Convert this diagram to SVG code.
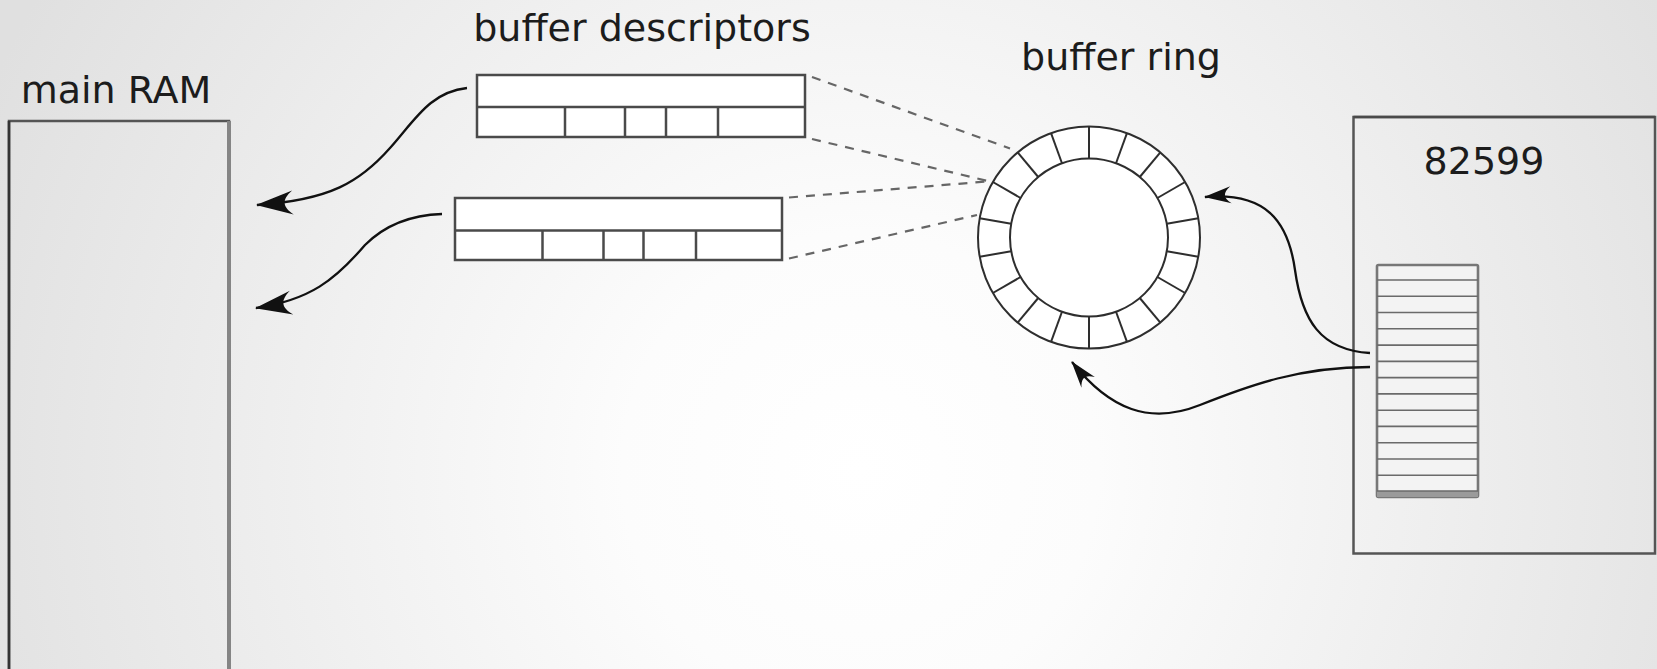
<svg xmlns="http://www.w3.org/2000/svg" width="1657" height="669" viewBox="0 0 1657 669">
  <defs>
    <radialGradient id="bg" gradientUnits="userSpaceOnUse" cx="860" cy="470" r="950">
      <stop offset="0" stop-color="#ffffff"/>
      <stop offset="0.25" stop-color="#fcfcfc"/>
      <stop offset="1" stop-color="#e0e0e0"/>
    </radialGradient>
    <marker id="headL" markerUnits="userSpaceOnUse" orient="auto" markerWidth="40" markerHeight="28" refX="0" refY="0" viewBox="-38 -14 40 28" overflow="visible">
      <path d="M1,0 L-36,-12 C-25,-3.5 -25,3.5 -36,12 Z" fill="#111"/>
    </marker>
    <marker id="headS" markerUnits="userSpaceOnUse" orient="auto" markerWidth="30" markerHeight="20" refX="0" refY="0" viewBox="-28 -10 30 20" overflow="visible">
      <path d="M1,0 L-26,-8.5 C-18,-2.5 -18,2.5 -26,8.5 Z" fill="#111"/>
    </marker>
  </defs>
  <style>
    .label { font-family: "DejaVu Sans", "Liberation Sans", sans-serif; font-size: 38px; fill: #1c1c1c; text-anchor: middle; }
    .box { fill: none; stroke: #555; stroke-width: 2.5; }
    .desc { fill: #ffffff; stroke: #4a4a4a; stroke-width: 2.5; }
    .cell { stroke: #4a4a4a; stroke-width: 2.5; }
    .ring { fill: #ffffff; stroke: #2e2e2e; stroke-width: 2; }
    .spoke { stroke: #2e2e2e; stroke-width: 2; }
    .row { stroke: #6a6a6a; stroke-width: 1.6; }
    .dash { fill: none; stroke: #666; stroke-width: 2.2; stroke-dasharray: 9 8; }
    .flow { fill: none; stroke: #111; stroke-width: 2.3; }
  </style>

  <rect x="0" y="0" width="1657" height="669" fill="url(#bg)"/>

  <!-- main memory -->
  <g id="main-ram">
    <rect class="box" x="9" y="121" width="220" height="560"/>
    <line x1="9" y1="121" x2="9" y2="669" stroke="#333" stroke-width="2.6"/>
    <line x1="229" y1="121" x2="229" y2="669" stroke="#858585" stroke-width="4"/>
    <text class="label" x="116" y="103">main RAM</text>
  </g>

  <!-- descriptor records -->
  <g id="buffer-descriptors">
    <text class="label" x="642" y="41">buffer descriptors</text>
    <g id="descriptor-1">
      <rect class="desc" x="477" y="75" width="328" height="62"/>
      <line class="cell" x1="477" y1="107" x2="805" y2="107"/>
      <line class="cell" x1="565" y1="107" x2="565" y2="137"/>
      <line class="cell" x1="625" y1="107" x2="625" y2="137"/>
      <line class="cell" x1="666" y1="107" x2="666" y2="137"/>
      <line class="cell" x1="718" y1="107" x2="718" y2="137"/>
    </g>
    <g id="descriptor-2">
      <rect class="desc" x="455" y="198" width="327" height="62"/>
      <line class="cell" x1="455" y1="230.5" x2="782" y2="230.5"/>
      <line class="cell" x1="542.5" y1="230.5" x2="542.5" y2="260"/>
      <line class="cell" x1="603.5" y1="230.5" x2="603.5" y2="260"/>
      <line class="cell" x1="643.5" y1="230.5" x2="643.5" y2="260"/>
      <line class="cell" x1="696" y1="230.5" x2="696" y2="260"/>
    </g>
  </g>

  <!-- ring of 18 slots -->
  <g id="buffer-ring">
    <text class="label" x="1121" y="69.5">buffer ring</text>
    <g transform="translate(1089 237.5)">
      <circle class="ring" r="111"/>
      <circle class="ring" r="79"/>
      <line class="spoke" x1="0" y1="-79" x2="0" y2="-111"/>
      <line class="spoke" x1="0" y1="-79" x2="0" y2="-111" transform="rotate(20)"/>
      <line class="spoke" x1="0" y1="-79" x2="0" y2="-111" transform="rotate(40)"/>
      <line class="spoke" x1="0" y1="-79" x2="0" y2="-111" transform="rotate(60)"/>
      <line class="spoke" x1="0" y1="-79" x2="0" y2="-111" transform="rotate(80)"/>
      <line class="spoke" x1="0" y1="-79" x2="0" y2="-111" transform="rotate(100)"/>
      <line class="spoke" x1="0" y1="-79" x2="0" y2="-111" transform="rotate(120)"/>
      <line class="spoke" x1="0" y1="-79" x2="0" y2="-111" transform="rotate(140)"/>
      <line class="spoke" x1="0" y1="-79" x2="0" y2="-111" transform="rotate(160)"/>
      <line class="spoke" x1="0" y1="-79" x2="0" y2="-111" transform="rotate(180)"/>
      <line class="spoke" x1="0" y1="-79" x2="0" y2="-111" transform="rotate(200)"/>
      <line class="spoke" x1="0" y1="-79" x2="0" y2="-111" transform="rotate(220)"/>
      <line class="spoke" x1="0" y1="-79" x2="0" y2="-111" transform="rotate(240)"/>
      <line class="spoke" x1="0" y1="-79" x2="0" y2="-111" transform="rotate(260)"/>
      <line class="spoke" x1="0" y1="-79" x2="0" y2="-111" transform="rotate(280)"/>
      <line class="spoke" x1="0" y1="-79" x2="0" y2="-111" transform="rotate(300)"/>
      <line class="spoke" x1="0" y1="-79" x2="0" y2="-111" transform="rotate(320)"/>
      <line class="spoke" x1="0" y1="-79" x2="0" y2="-111" transform="rotate(340)"/>
    </g>
  </g>

  <!-- controller with its FIFO -->
  <g id="nic-82599">
    <rect class="box" x="1353.5" y="117" width="301.5" height="436.5" stroke="#6e6e6e"/>
    <line x1="1353.5" y1="117" x2="1655" y2="117" stroke="#4a4a4a" stroke-width="2.5"/>
    <text class="label" x="1484" y="173.5">82599</text>
    <g id="fifo">
      <rect x="1377" y="265" width="101" height="232" fill="#f3f3f3" stroke="#777" stroke-width="2.6" rx="1.5"/>
      <rect x="1377" y="491" width="101" height="6" fill="#9a9a9a"/>
      <line class="row" x1="1377" y1="280" x2="1478" y2="280"/>
      <line class="row" x1="1377" y1="296.3" x2="1478" y2="296.3"/>
      <line class="row" x1="1377" y1="312.5" x2="1478" y2="312.5"/>
      <line class="row" x1="1377" y1="328.8" x2="1478" y2="328.8"/>
      <line class="row" x1="1377" y1="345.1" x2="1478" y2="345.1"/>
      <line class="row" x1="1377" y1="361.4" x2="1478" y2="361.4"/>
      <line class="row" x1="1377" y1="377.6" x2="1478" y2="377.6"/>
      <line class="row" x1="1377" y1="393.9" x2="1478" y2="393.9"/>
      <line class="row" x1="1377" y1="410.2" x2="1478" y2="410.2"/>
      <line class="row" x1="1377" y1="426.4" x2="1478" y2="426.4"/>
      <line class="row" x1="1377" y1="442.7" x2="1478" y2="442.7"/>
      <line class="row" x1="1377" y1="459" x2="1478" y2="459"/>
      <line class="row" x1="1377" y1="475.2" x2="1478" y2="475.2"/>
      <line class="row" x1="1377" y1="491" x2="1478" y2="491"/>
    </g>
  </g>

  <!-- connectors -->
  <g id="connectors">
    <line class="dash" x1="812" y1="77" x2="1010" y2="148.5"/>
    <line class="dash" x1="812" y1="139" x2="990" y2="181.5"/>
    <line class="dash" x1="789" y1="197.5" x2="987" y2="181.5"/>
    <line class="dash" x1="789" y1="258.5" x2="977" y2="215"/>

    <path class="flow" d="M467,88 C430,92 415,120 390,148 C360,182 330,200 257,205" marker-end="url(#headL)"/>
    <path class="flow" d="M442,214 C410,215 385,225 365,245 C335,280 310,300 256,308" marker-end="url(#headL)"/>

    <path class="flow" d="M1370,353 C1320,350 1302,320 1295,270 C1288,220 1265,192 1205,197" marker-end="url(#headS)"/>
    <path class="flow" d="M1370,367 C1300,367 1250,385 1200,405 C1150,425 1110,410 1072,362" marker-end="url(#headS)"/>
  </g>
</svg>
